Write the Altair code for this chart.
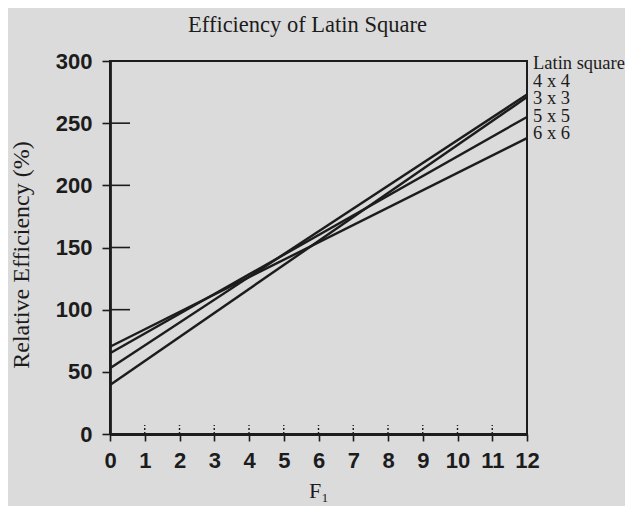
import altair as alt
import pandas as pd

# ---- data ----
f_values = [0, 12]
series_names = ["3 x 3", "4 x 4", "5 x 5", "6 x 6"]
re_3x3 = [39.4, 271]
re_4x4 = [52.9, 273]
re_5x5 = [65.0, 255]
re_6x6 = [70.2, 238]
legend_title = "Latin square"
legend_order = ["4 x 4", "3 x 3", "5 x 5", "6 x 6"]

x_ticks = list(range(0, 13))
y_ticks = [0, 50, 100, 150, 200, 250, 300]
inner_y_ticks = [100, 150, 200, 250]
inner_x_ticks = list(range(1, 12))

rows = []
for name, vals in zip(series_names, [re_3x3, re_4x4, re_5x5, re_6x6]):
    for f, v in zip(f_values, vals):
        rows.append({"F": f, "RE": v, "size": name})
df = pd.DataFrame(rows)
df_iy = pd.DataFrame({"RE": inner_y_ticks})
df_ix = pd.DataFrame({"F": inner_x_ticks})
leg_labels = [legend_title] + legend_order
df_leg = pd.DataFrame({"label": leg_labels, "row": list(range(len(leg_labels)))})

W, H = 417, 373
INK = "#1c1c1c"

xscale = alt.Scale(domain=[0, 12], nice=False, zero=False)
yscale = alt.Scale(domain=[0, 300], nice=False)

x_axis = alt.Axis(values=x_ticks, title="F\u2081", format="d",
                  labelOverlap=False, labelFlush=False)
y_axis = alt.Axis(values=y_ticks, title="Relative Efficiency (%)",
                  labelOverlap=False, titleY=H / 2 + 7)

lines = alt.Chart(df).mark_line(strokeWidth=2.4, color=INK).encode(
    x=alt.X("F:Q", scale=xscale, axis=x_axis),
    y=alt.Y("RE:Q", scale=yscale, axis=y_axis),
    detail="size:N",
)

ytick_in = alt.Chart(df_iy).mark_rule(color=INK, strokeWidth=1.6).encode(
    y=alt.Y("RE:Q", scale=yscale, axis=y_axis),
    x=alt.value(0), x2=alt.value(20),
)

xtick_in = alt.Chart(df_ix).mark_rule(color=INK, strokeWidth=1.4,
                                      strokeDash=[2, 2]).encode(
    x=alt.X("F:Q", scale=xscale, axis=x_axis),
    y=alt.value(H), y2=alt.value(H - 9),
)

legend_text = alt.Chart(df_leg).mark_text(
    align="left", baseline="alphabetic", font="Liberation Serif",
    fontSize=18.5, color=INK,
).encode(
    x=alt.value(W + 6),
    y=alt.Y("row:O", scale=alt.Scale(type="point", range=[8, 78], padding=0),
            axis=None),
    text="label:N",
)

base = alt.layer(lines, ytick_in, xtick_in)

chart = alt.layer(base, legend_text).resolve_scale(y="independent").properties(
    width=W, height=H,
    background="#dbdbdb",
    autosize=alt.AutoSizeParams(type="none"),
    padding={"left": 102, "top": 53, "right": 98, "bottom": 72},
    title=alt.TitleParams("Efficiency of Latin Square",
                          font="Liberation Serif", fontSize=22.5,
                          fontWeight="normal", color=INK,
                          anchor="middle", dx=-11, offset=14),
).configure_view(
    stroke=INK, strokeWidth=2,
).configure_axis(
    grid=False,
    domainColor=INK, domainWidth=2.8,
    tickColor=INK, tickWidth=1.6,
    labelColor=INK, labelFont="Liberation Sans", labelFontWeight="bold",
    labelFontSize=22,
    titleColor=INK, titleFont="Liberation Serif", titleFontWeight="normal",
    titleFontSize=24,
).configure_axisX(
    tickSize=7, labelPadding=9, titlePadding=9, titleFontSize=22,
    labelOverlap=False,
).configure_axisY(
    tickSize=8, labelPadding=10, titlePadding=22,
)

chart.save("out.html", embed_options={"renderer": "svg", "actions": False})
